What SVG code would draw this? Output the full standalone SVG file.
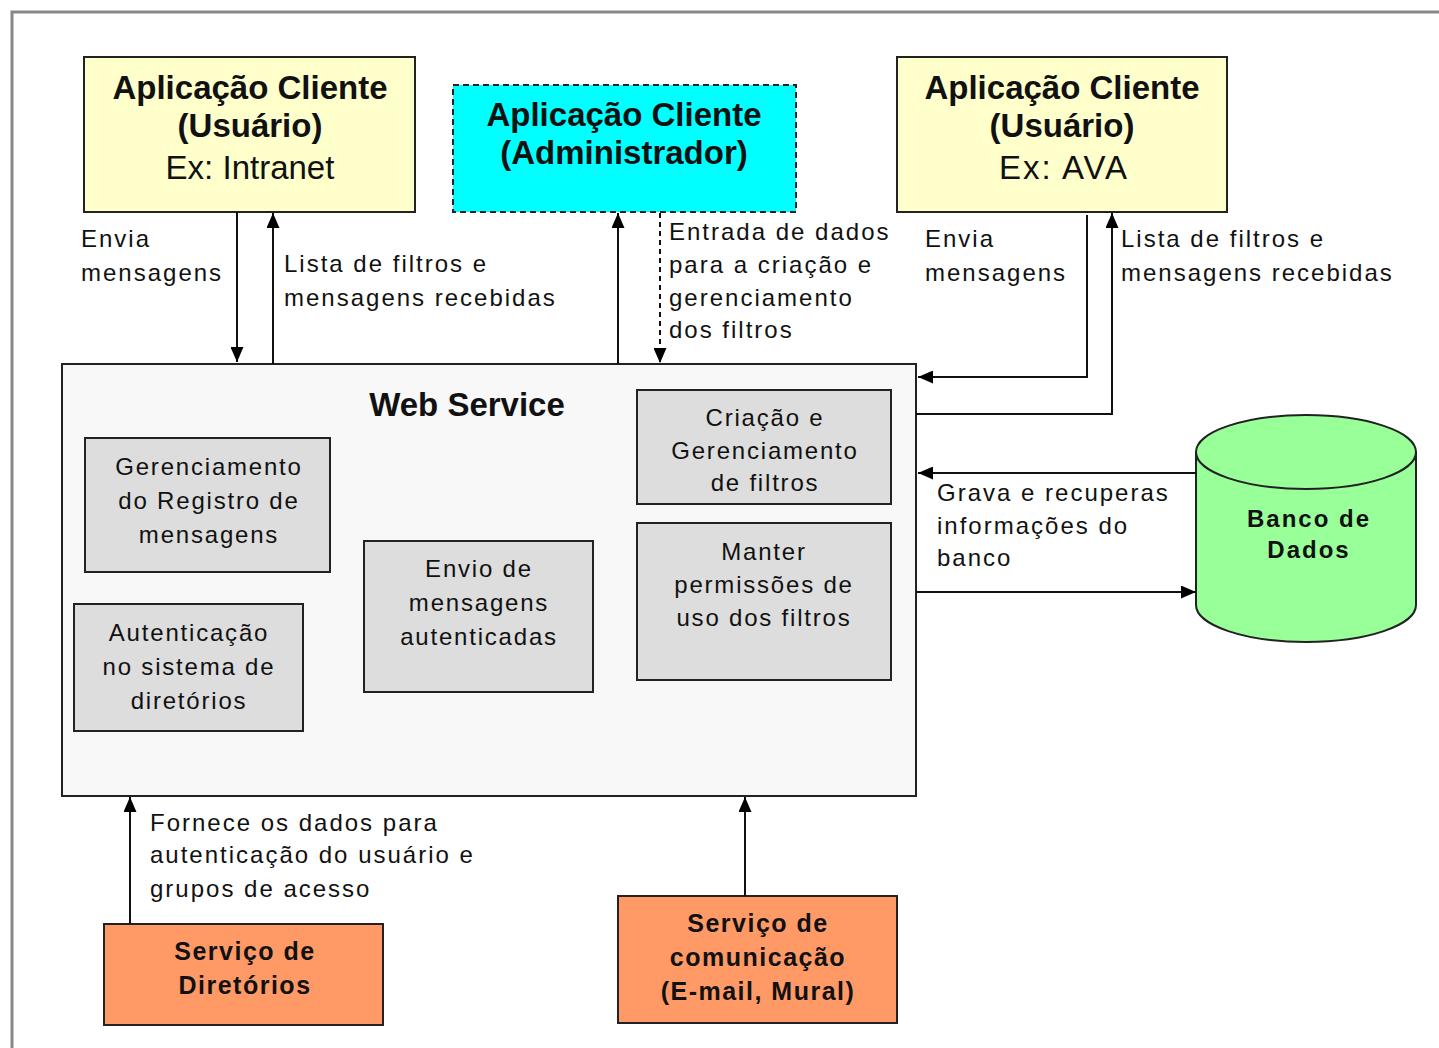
<svg xmlns="http://www.w3.org/2000/svg" width="1439" height="1048" viewBox="0 0 1439 1048">
<style>
.box{stroke:#222;stroke-width:2}
.t{font-family:"Liberation Sans",Arial,sans-serif;fill:#111}
.title{font-size:33px;font-weight:bold}
.sub{font-size:33px}
.lbl{font-size:24px;letter-spacing:2px}
.in{font-size:24px;letter-spacing:1.8px;text-anchor:middle}
.bd{font-size:25px;font-weight:bold;letter-spacing:1.5px;text-anchor:middle}
.c{text-anchor:middle}
.ln{stroke:#111;stroke-width:2;fill:none}
</style>
<defs>
<marker id="ah" markerUnits="userSpaceOnUse" markerWidth="15" markerHeight="13" refX="15" refY="6.5" orient="auto">
<path d="M0,0 L15,6.5 L0,13 z" fill="#000"/>
</marker>
</defs>
<rect width="1439" height="1048" fill="#fff"/>
<path d="M12,1048 V12 H1439" stroke="#888" stroke-width="3" fill="none"/>

<g id="app-intranet">
<rect class="box" x="84" y="57" width="331" height="155" fill="#FFFFCC"/>
<text class="t title c" x="250" y="99">Aplicação Cliente</text>
<text class="t title c" x="250" y="137">(Usuário)</text>
<text class="t sub c" x="250" y="179">Ex: Intranet</text>
</g>

<g id="app-admin">
<rect x="453" y="85" width="343" height="127" fill="#00FFFF" stroke="#222" stroke-width="2" stroke-dasharray="6,4"/>
<text class="t title c" x="624" y="126">Aplicação Cliente</text>
<text class="t title c" x="624" y="164">(Administrador)</text>
</g>

<g id="app-ava">
<rect class="box" x="897" y="57" width="330" height="155" fill="#FFFFCC"/>
<text class="t title c" x="1062" y="99">Aplicação Cliente</text>
<text class="t title c" x="1062" y="137">(Usuário)</text>
<text class="t sub c" x="1064" y="179" style="letter-spacing:2px">Ex: AVA</text>
</g>

<g id="web-service">
<rect class="box" x="62" y="364" width="854" height="432" fill="#F8F8F8"/>
<text class="t title c" x="467" y="416">Web Service</text>
</g>

<g id="gerenciamento-registro">
<rect class="box" x="85" y="438" width="245" height="134" fill="#DDDDDD"/>
<text class="t in" x="209" y="475">Gerenciamento</text>
<text class="t in" x="209" y="509">do Registro de</text>
<text class="t in" x="209" y="543">mensagens</text>
</g>

<g id="autenticacao">
<rect class="box" x="74" y="604" width="229" height="127" fill="#DDDDDD"/>
<text class="t in" x="189" y="641">Autenticação</text>
<text class="t in" x="189" y="675">no sistema de</text>
<text class="t in" x="189" y="709">diretórios</text>
</g>

<g id="envio">
<rect class="box" x="364" y="541" width="229" height="151" fill="#DDDDDD"/>
<text class="t in" x="479" y="577">Envio de</text>
<text class="t in" x="479" y="611">mensagens</text>
<text class="t in" x="479" y="645">autenticadas</text>
</g>

<g id="criacao-filtros">
<rect class="box" x="637" y="390" width="254" height="114" fill="#DDDDDD"/>
<text class="t in" x="765" y="426">Criação e</text>
<text class="t in" x="765" y="459">Gerenciamento</text>
<text class="t in" x="765" y="491">de filtros</text>
</g>

<g id="manter-permissoes">
<rect class="box" x="637" y="523" width="254" height="157" fill="#DDDDDD"/>
<text class="t in" x="764" y="560">Manter</text>
<text class="t in" x="764" y="593">permissões de</text>
<text class="t in" x="764" y="626">uso dos filtros</text>
</g>

<g id="banco-dados">
<path d="M1196,452 V605 A110,37 0 0 0 1416,605 V452" fill="#99FF99" stroke="#222" stroke-width="2"/>
<ellipse cx="1306" cy="452" rx="110" ry="37" fill="#99FF99" stroke="#222" stroke-width="2"/>
<text class="t bd" x="1309" y="527" style="font-size:24px;letter-spacing:2px">Banco de</text>
<text class="t bd" x="1309" y="558" style="font-size:24px;letter-spacing:2px">Dados</text>
</g>

<g id="servico-diretorios">
<rect class="box" x="104" y="924" width="279" height="101" fill="#FF9966"/>
<text class="t bd" x="245" y="960">Serviço de</text>
<text class="t bd" x="245" y="994">Diretórios</text>
</g>

<g id="servico-comunicacao">
<rect class="box" x="618" y="896" width="279" height="127" fill="#FF9966"/>
<text class="t bd" x="758" y="932">Serviço de</text>
<text class="t bd" x="758" y="966">comunicação</text>
<text class="t bd" x="758" y="1000">(E-mail, Mural)</text>
</g>

<g id="connectors">
<line class="ln" x1="237" y1="212" x2="237" y2="362" marker-end="url(#ah)"/>
<line class="ln" x1="273" y1="364" x2="273" y2="213" marker-end="url(#ah)"/>
<line class="ln" x1="618" y1="364" x2="618" y2="213" marker-end="url(#ah)"/>
<line class="ln" x1="660" y1="213" x2="660" y2="363" stroke-dasharray="5,4" marker-end="url(#ah)"/>
<polyline class="ln" points="1087,215 1087,377 918,377" marker-end="url(#ah)"/>
<polyline class="ln" points="916,414 1112,414 1112,213" marker-end="url(#ah)"/>
<line class="ln" x1="1196" y1="473" x2="918" y2="473" marker-end="url(#ah)"/>
<line class="ln" x1="916" y1="592" x2="1196" y2="592" marker-end="url(#ah)"/>
<line class="ln" x1="130" y1="924" x2="130" y2="797" marker-end="url(#ah)"/>
<line class="ln" x1="745" y1="896" x2="745" y2="797" marker-end="url(#ah)"/>

<text class="t lbl" x="81" y="247">Envia</text>
<text class="t lbl" x="81" y="281">mensagens</text>
<text class="t lbl" x="284" y="272">Lista de filtros e</text>
<text class="t lbl" x="284" y="306">mensagens recebidas</text>
<text class="t lbl" x="669" y="240">Entrada de dados</text>
<text class="t lbl" x="669" y="273">para a criação e</text>
<text class="t lbl" x="669" y="306">gerenciamento</text>
<text class="t lbl" x="669" y="338">dos filtros</text>
<text class="t lbl" x="925" y="247">Envia</text>
<text class="t lbl" x="925" y="281">mensagens</text>
<text class="t lbl" x="1121" y="247">Lista de filtros e</text>
<text class="t lbl" x="1121" y="281">mensagens recebidas</text>
<text class="t lbl" x="937" y="501">Grava e recuperas</text>
<text class="t lbl" x="937" y="534">informações do</text>
<text class="t lbl" x="937" y="566">banco</text>
<text class="t lbl" x="150" y="831">Fornece os dados para</text>
<text class="t lbl" x="150" y="863">autenticação do usuário e</text>
<text class="t lbl" x="150" y="897">grupos de acesso</text>
</g>
</svg>
